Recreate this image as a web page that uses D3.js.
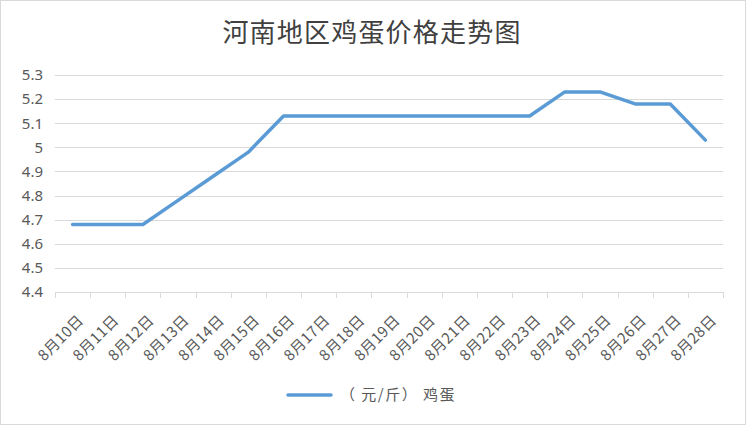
<!DOCTYPE html>
<html>
<head>
<meta charset="utf-8">
<script src="https://cdn.jsdelivr.net/npm/d3@7"></script>
<style>
  body { margin: 0; background: #fff; }
  svg { display: block; font-family: "Noto Sans CJK SC", "Noto Sans", sans-serif; }
</style>
</head>
<body>
<div id="chart"></div>
<script>
// data
var days = ["8月10日","8月11日","8月12日","8月13日","8月14日","8月15日","8月16日","8月17日",
            "8月18日","8月19日","8月20日","8月21日","8月22日","8月23日","8月24日","8月25日",
            "8月26日","8月27日","8月28日"];
var prices = [4.68, 4.68, 4.68, 4.78, 4.88, 4.98, 5.13, 5.13, 5.13, 5.13, 5.13, 5.13, 5.13,
              5.13, 5.23, 5.23, 5.18, 5.18, 5.03];
var yTicks = [4.4, 4.5, 4.6, 4.7, 4.8, 4.9, 5, 5.1, 5.2, 5.3];
var seriesName = "（ 元/斤） 鸡蛋";
var title = "河南地区鸡蛋价格走势图";

var W = 746, H = 425;
var margin = {top: 75, right: 23, bottom: 133, left: 55},
    width = W - margin.left - margin.right,
    height = H - margin.top - margin.bottom;

var svg = d3.select("#chart").append("svg")
    .attr("width", W)
    .attr("height", H);

// outer frame
svg.append("rect")
    .attr("x", 0.5).attr("y", 0.5)
    .attr("width", W - 1).attr("height", H - 1)
    .attr("fill", "#fff")
    .attr("stroke", "#d9d9d9");

svg.append("text")
    .attr("x", 372).attr("y", 42)
    .attr("text-anchor", "middle")
    .attr("font-size", 26)
    .attr("letter-spacing", 1.2)
    .attr("fill", "#404040")
    .text(title);

var g = svg.append("g")
    .attr("transform", "translate(" + margin.left + "," + margin.top + ")");

var x = d3.scaleBand().domain(days).range([0, width]);
var y = d3.scaleLinear().domain([4.4, 5.3]).range([height, 0]);

// grid lines
g.append("g")
  .selectAll("line")
  .data(yTicks.slice(1))
  .enter().append("line")
    .attr("x1", 0).attr("x2", width)
    .attr("y1", function(d) { return Math.round(y(d)) + 0.5; })
    .attr("y2", function(d) { return Math.round(y(d)) + 0.5; })
    .attr("stroke", "#d9d9d9");

// y axis labels
var yAxis = g.append("g")
    .call(d3.axisLeft(y).tickValues(yTicks).tickSize(0).tickPadding(12)
      .tickFormat(function(d) { return String(+d.toFixed(1)); }));
yAxis.select(".domain").remove();
yAxis.selectAll("text")
    .attr("font-size", 15)
    .attr("fill", "#595959")
    .style("font-family", "'Noto Sans', sans-serif");

// x axis line with boundary ticks
var xAxis = g.append("g")
    .attr("transform", "translate(0," + height + ")");
xAxis.append("line")
    .attr("x1", 0).attr("x2", width)
    .attr("y1", 0.5).attr("y2", 0.5)
    .attr("stroke", "#d9d9d9");
xAxis.selectAll("line.tk")
  .data(d3.range(days.length + 1))
  .enter().append("line")
    .attr("class", "tk")
    .attr("x1", function(i) { return Math.round(i * x.step()) + 0.5; })
    .attr("x2", function(i) { return Math.round(i * x.step()) + 0.5; })
    .attr("y1", 0).attr("y2", 6)
    .attr("stroke", "#d9d9d9");
xAxis.selectAll("text")
  .data(days)
  .enter().append("text")
    .attr("transform", function(d) {
      return "translate(" + (x(d) + x.bandwidth() / 2 + 4.5) + ",22) rotate(-45)";
    })
    .attr("text-anchor", "end")
    .attr("dy", "0.7em")
    .attr("font-size", 15)
    .attr("letter-spacing", 0.4)
    .attr("fill", "#595959")
    .text(function(d) { return d; });

// line
var line = d3.line()
    .x(function(d, i) { return x(days[i]) + x.bandwidth() / 2; })
    .y(function(d) { return y(d); });
g.append("path")
    .datum(prices)
    .attr("d", line)
    .attr("fill", "none")
    .attr("stroke", "#5b9bd5")
    .attr("stroke-width", 3.5)
    .attr("stroke-linejoin", "round")
    .attr("stroke-linecap", "round");

// legend
var lg = svg.append("g").attr("transform", "translate(288,395)");
lg.append("line")
    .attr("x1", 0).attr("x2", 43)
    .attr("stroke", "#5b9bd5")
    .attr("stroke-width", 3.5)
    .attr("stroke-linecap", "round");
lg.append("text")
    .attr("x", 52).attr("dy", "0.35em")
    .attr("font-size", 15)
    .attr("letter-spacing", 1.5)
    .attr("fill", "#595959")
    .text(seriesName);
</script>
</body>
</html>
